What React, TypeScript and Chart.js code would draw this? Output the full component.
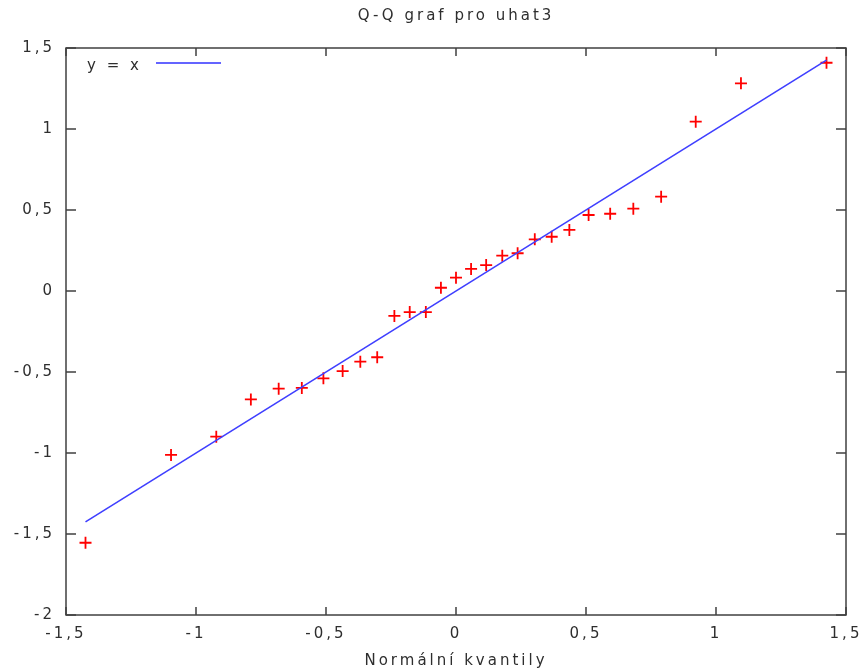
import { useEffect, useRef } from 'react';
import { Chart, registerables } from 'chart.js';

Chart.register(...registerables);

// Normal quantiles (x) and sorted residuals uhat3 (y)
const quantiles = [
  -1.425, -1.096, -0.922, -0.789, -0.682, -0.593, -0.51, -0.436, -0.368, -0.303,
  -0.237, -0.178, -0.116, -0.058, 0, 0.058, 0.116, 0.178, 0.237, 0.303,
  0.368, 0.436, 0.51, 0.593, 0.682, 0.789, 0.922, 1.096, 1.425,
];
const residuals = [
  -1.554, -1.012, -0.899, -0.669, -0.603, -0.598, -0.539, -0.494, -0.436, -0.409,
  -0.154, -0.13, -0.13, 0.02, 0.082, 0.136, 0.16, 0.218, 0.233, 0.319,
  0.335, 0.377, 0.469, 0.477, 0.508, 0.582, 1.045, 1.282, 1.409,
];
const xTickValues = [-1.5, -1, -0.5, 0, 0.5, 1, 1.5];
const yTickValues = [-2, -1.5, -1, -0.5, 0, 0.5, 1, 1.5];
const titleText = 'Q-Q graf pro uhat3';
const xAxisTitle = 'Normální kvantily';
const legendLabel = 'y = x';

const FONT_FAMILY = 'DejaVu Sans';
const FONT_SIZE = 15;
const TEXT_COLOR = '#2e2e2e';
const SPACING = '3px';

const fmt = (v: number) => String(v).replace('.', ',');

const setSpacing = (chart: any) => {
  try {
    (chart.ctx as any).letterSpacing = SPACING;
  } catch (e) {}
};

const spacingPlugin = {
  id: 'spacingPlugin',
  beforeUpdate: (chart: any) => setSpacing(chart),
  beforeLayout: (chart: any) => setSpacing(chart),
  beforeDraw: (chart: any) => setSpacing(chart),
};

const framePlugin = {
  id: 'framePlugin',
  beforeDatasetsDraw(chart: any) {
    const { ctx, chartArea: a, scales } = chart;
    ctx.save();
    ctx.strokeStyle = '#404040';
    ctx.lineWidth = 1.5;
    ctx.strokeRect(a.left, a.top, a.right - a.left, a.bottom - a.top);
    ctx.beginPath();
    for (const v of xTickValues) {
      const px = scales.x.getPixelForValue(v);
      ctx.moveTo(px, a.bottom);
      ctx.lineTo(px, a.bottom - 8);
      ctx.moveTo(px, a.top);
      ctx.lineTo(px, a.top + 8);
    }
    for (const v of yTickValues) {
      const py = scales.y.getPixelForValue(v);
      ctx.moveTo(a.left, py);
      ctx.lineTo(a.left + 10, py);
      ctx.moveTo(a.right, py);
      ctx.lineTo(a.right - 10, py);
    }
    ctx.stroke();
    ctx.restore();
  },
  afterDraw(chart: any) {
    const { ctx, chartArea: a } = chart;
    ctx.save();
    ctx.letterSpacing = SPACING;
    ctx.font = `${FONT_SIZE}px "${FONT_FAMILY}"`;
    ctx.fillStyle = TEXT_COLOR;
    ctx.textAlign = 'left';
    ctx.textBaseline = 'middle';
    ctx.fillText(legendLabel, a.left + 21, a.top + 18);
    ctx.strokeStyle = '#3030ff';
    ctx.lineWidth = 1.5;
    ctx.beginPath();
    ctx.moveTo(a.left + 90, a.top + 15);
    ctx.lineTo(a.left + 155, a.top + 15);
    ctx.stroke();
    ctx.restore();
  },
};

export default function App() {
  const ref = useRef<HTMLCanvasElement | null>(null);

  useEffect(() => {
    if (!ref.current) return;
    const font = { family: FONT_FAMILY, size: FONT_SIZE, weight: 'normal' as const };
    const n = quantiles.length;
    const chart = new Chart(ref.current, {
      type: 'scatter',
      data: {
        datasets: [
          {
            label: legendLabel,
            data: [quantiles[0], quantiles[n - 1]].map((v) => ({ x: v, y: v })),
            showLine: true,
            borderColor: '#3f3fff',
            borderWidth: 1.6,
            pointRadius: 0,
            order: 0,
          },
          {
            label: 'uhat3',
            data: quantiles.map((q, i) => ({ x: q, y: residuals[i] })),
            showLine: false,
            pointStyle: 'cross',
            pointRadius: 6,
            pointHoverRadius: 6,
            borderColor: '#ff0000',
            backgroundColor: '#ff0000',
            pointBorderWidth: 1.8,
            order: 1,
          },
        ],
      },
      options: {
        animation: false,
        responsive: true,
        maintainAspectRatio: false,
        layout: { padding: { left: 0, right: 20, top: 0, bottom: 0 } },
        plugins: {
          legend: { display: false },
          tooltip: { enabled: false },
          title: {
            display: true,
            text: titleText,
            color: TEXT_COLOR,
            font,
            fullSize: false,
            padding: { top: 7, bottom: 23 },
          },
        },
        scales: {
          x: {
            type: 'linear',
            min: -1.5,
            max: 1.5,
            afterBuildTicks: (s: any) => {
              s.ticks = xTickValues.map((v) => ({ value: v }));
            },
            afterFit: (s: any) => {
              s.height = 56;
              s.paddingLeft = 0;
              s.paddingRight = 0;
            },
            ticks: {
              callback: (v: any) => fmt(Number(v)),
              color: TEXT_COLOR,
              font,
              padding: 10,
              maxRotation: 0,
              autoSkip: false,
            },
            grid: { display: false, drawTicks: false },
            border: { display: false },
            title: {
              display: true,
              text: xAxisTitle,
              color: TEXT_COLOR,
              font,
              padding: { top: 0, bottom: 1 },
            },
          },
          y: {
            type: 'linear',
            min: -2,
            max: 1.5,
            afterBuildTicks: (s: any) => {
              s.ticks = yTickValues.map((v) => ({ value: v }));
            },
            afterFit: (s: any) => {
              s.width = 66;
              s.paddingTop = 0;
              s.paddingBottom = 0;
            },
            ticks: {
              callback: (v: any) => fmt(Number(v)),
              color: TEXT_COLOR,
              font,
              padding: 11,
              autoSkip: false,
            },
            grid: { display: false, drawTicks: false },
            border: { display: false },
          },
        },
      },
      plugins: [spacingPlugin, framePlugin],
    });
    return () => chart.destroy();
  }, []);

  return (
    <div style={{ position: 'fixed', left: 0, top: 0, width: 866, height: 671 }}>
      <canvas ref={ref} />
    </div>
  );
}
